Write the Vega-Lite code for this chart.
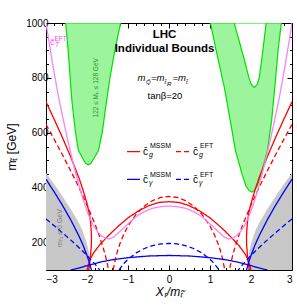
{
 "$schema": "https://vega.github.io/schema/vega-lite/v6.json",
 "width": 246, "height": 247,
 "autosize": {"type": "none"},
 "padding": {"left": 46, "top": 23, "right": 5, "bottom": 36},
 "background": "#ffffff",
 "config": {
  "view": {"stroke": "#000000", "strokeWidth": 1},
  "font": "Liberation Sans",
  "axis": {"grid": false, "domain": false, "tickColor": "#000000", "tickWidth": 1, "labelFont": "Liberation Sans", "labelFontSize": 10, "labelColor": "#000000", "titleFont": "Liberation Sans", "titleColor": "#000000", "titleFontWeight": "normal", "titleFontSize": 12}
 },
 "datasets": {
  "gray": [
   {"side": "L", "X": [-3, -2.8, -2.6, -2.4, -2.2, -2.1, -2.0, -1.95, -1.93, -1.92], "hi": [453, 412, 369, 322, 272, 240, 195, 160, 130, 100]},
   {"side": "R", "X": [1.92, 1.93, 1.95, 2.0, 2.1, 2.2, 2.4, 2.6, 2.8, 3], "hi": [100, 130, 160, 195, 240, 272, 322, 369, 412, 453]}
  ],
  "green": [
   {"reg": "L", "m": [483, 488, 500, 520, 536, 600, 719, 800, 901, 1000], "xl": [-1.97, -2.03, -2.08, -2.15, -2.21, -2.28, -2.37, -2.41, -2.46, -2.52], "xr": [-1.97, -1.91, -1.86, -1.78, -1.72, -1.63, -1.52, -1.44, -1.32, -1.18]},
   {"reg": "R", "m": [384, 390, 405, 450, 536, 640, 765, 900, 1000], "xl": [2.02, 1.95, 1.88, 1.78, 1.62, 1.5, 1.35, 1.15, 1.01], "xr": [2.02, 2.09, 2.15, 2.25, 2.4, 2.5, 2.58, 2.66, 2.74]}
  ],
  "hole": [
   {"reg": "H", "m": [765, 775, 800, 876, 1000], "xl": [2.08, 2.01, 1.95, 1.82, 1.59], "xr": [2.08, 2.15, 2.2, 2.27, 2.37]}
  ],
  "curves": [
   {"s": "gM", "g": "gM1", "X": [-3, -2.8, -2.6, -2.4, -2.2, -2.1, -2.0, -1.95, -1.92, -1.9, -1.89, -1.895, -1.91, -1.93, -1.96], "m": [713, 649, 583, 513, 437, 393, 342, 310, 284, 250, 220, 190, 160, 130, 100]},
   {"s": "gM", "g": "gM2", "X": [-2.0, -1.97, -1.92, -1.85, -1.7, -1.5, -1.25, -1.0, -0.75, -0.5, -0.25, 0, 0.25, 0.5, 0.75, 1.0, 1.25, 1.5, 1.7, 1.85, 1.92, 1.97, 2.0], "m": [100, 115, 140, 160, 190, 222, 258, 290, 315, 334, 346, 349, 346, 334, 315, 290, 258, 222, 190, 160, 140, 115, 100]},
   {"s": "gM", "g": "gM3", "X": [3, 2.8, 2.6, 2.4, 2.2, 2.1, 2.0, 1.95, 1.92, 1.9, 1.89, 1.895, 1.91, 1.93, 1.96], "m": [713, 649, 583, 513, 437, 393, 342, 310, 284, 250, 220, 190, 160, 130, 100]},
   {"s": "gE", "g": "gE1", "X": [-3, -2.8, -2.6, -2.4, -2.2, -2.0, -1.8, -1.7, -1.6, -1.55, -1.5, -1.475], "m": [630.5, 575.9, 519.9, 462.1, 401.6, 337, 265.4, 224.8, 178.3, 151.2, 119.2, 100]},
   {"s": "gE", "g": "gE2", "X": [-1.361, -1.3, -1.25, -1.2, -1.1, -1.0, -0.8, -0.6, -0.4, -0.2, 0, 0.2, 0.4, 0.6, 0.8, 1.0, 1.1, 1.2, 1.25, 1.3, 1.361], "m": [100, 144.9, 172.1, 194.7, 231.3, 260.2, 303.5, 333.2, 353, 364.3, 368, 364.3, 353, 333.2, 303.5, 260.2, 231.3, 194.7, 172.1, 144.9, 100]},
   {"s": "gE", "g": "gE3", "X": [3, 2.8, 2.6, 2.4, 2.2, 2.0, 1.8, 1.7, 1.6, 1.55, 1.5, 1.475], "m": [630.5, 575.9, 519.9, 462.1, 401.6, 337, 265.4, 224.8, 178.3, 151.2, 119.2, 100]},
   {"s": "yE", "g": "yE1", "X": [-3, -2.8, -2.6, -2.4, -2.2, -2.0, -1.8, -1.69], "m": [286.2, 261.4, 236, 209.8, 182.3, 153, 120.5, 100]},
   {"s": "yE", "g": "yE2", "X": [-1.218, -1.2, -1.1, -1.0, -0.8, -0.6, -0.4, -0.2, 0, 0.2, 0.4, 0.6, 0.8, 1.0, 1.1, 1.2, 1.218], "m": [100, 104.2, 123.8, 139.3, 162.4, 178.4, 189, 195, 197, 195, 189, 178.4, 162.4, 139.3, 123.8, 104.2, 100]},
   {"s": "yE", "g": "yE3", "X": [3, 2.8, 2.6, 2.4, 2.2, 2.0, 1.8, 1.69], "m": [286.2, 261.4, 236, 209.8, 182.3, 153, 120.5, 100]},
   {"s": "yM", "g": "yM1", "X": [-3, -2.8, -2.6, -2.4, -2.2, -2.1, -2.0, -1.95, -1.9, -1.888], "m": [431, 384.5, 336, 283.7, 225, 191.7, 153, 130.6, 104, 100]},
   {"s": "yM", "g": "yM2", "X": [-2.4, -2.2, -2.0, -1.7, -1.4, -1.0, -0.5, 0, 0.5, 1.0, 1.4, 1.7, 2.0, 2.2, 2.4], "m": [100, 107, 116, 128, 137, 145, 151, 153, 151, 145, 137, 128, 116, 107, 100]},
   {"s": "yM", "g": "yM3", "X": [3, 2.8, 2.6, 2.4, 2.2, 2.1, 2.0, 1.95, 1.9, 1.888], "m": [431, 384.5, 336, 283.7, 225, 191.7, 153, 130.6, 104, 100]},
   {"s": "T", "g": "T", "X": [-3, -2.85, -2.7, -2.55, -2.45, -2.35, -2.25, -2.15, -2.05, -1.95, -1.85, -1.75, -1.65, -1.55, -1.45, -1.35, -1.2, -1.0, -0.8, -0.6, -0.4, -0.2, 0, 0.2, 0.4, 0.6, 0.8, 1.0, 1.2, 1.35, 1.45, 1.55, 1.65, 1.75, 1.85, 1.95, 2.05, 2.15, 2.25, 2.35, 2.45, 2.55, 2.7, 2.85, 3], "m": [1000, 860, 735, 628, 560, 497, 438, 384, 336, 296, 264, 241, 225, 216, 213, 220, 240, 268, 295, 313, 325, 331, 333, 331, 325, 313, 295, 268, 240, 220, 213, 216, 225, 241, 264, 296, 336, 384, 438, 497, 560, 628, 735, 860, 1000]}
  ],
  "legend": [
   {"s": "gM", "X1": -1.024, "X2": -0.707, "m": 531},
   {"s": "gE", "X1": 0.171, "X2": 0.488, "m": 531},
   {"s": "yM", "X1": -1.024, "X2": -0.707, "m": 430},
   {"s": "yE", "X1": 0.171, "X2": 0.488, "m": 430}
  ],
  "labels": [
   {"k": "ttl", "X": -0.11, "m": 955, "t": "LHC"},
   {"k": "ttl", "X": -0.11, "m": 904, "t": "Individual Bounds"},
   {"k": "eq", "X": -0.768, "m": 788, "t": "m"},
   {"k": "eqs", "X": -0.561, "m": 777, "t": "Q\u0303"},
   {"k": "eq", "X": -0.439, "m": 788, "t": "=m"},
   {"k": "eqs", "X": -0.11, "m": 777, "t": "t\u0303"},
   {"k": "eqs", "X": -0.049, "m": 772, "t": "R"},
   {"k": "eq", "X": 0.085, "m": 788, "t": "=m"},
   {"k": "eqs", "X": 0.415, "m": 777, "t": "t\u0303"},
   {"k": "tan", "X": -0.098, "m": 733, "t": "tan\u03b2=20"},
   {"k": "c", "X": -0.634, "m": 519, "t": "c\u0304"},
   {"k": "sub", "X": -0.49, "m": 512, "t": "g"},
   {"k": "sup", "X": -0.463, "m": 543, "t": "MSSM"},
   {"k": "c", "X": 0.585, "m": 519, "t": "c\u0304"},
   {"k": "sub", "X": 0.732, "m": 512, "t": "g"},
   {"k": "sup", "X": 0.756, "m": 543, "t": "EFT"},
   {"k": "c", "X": -0.634, "m": 417, "t": "c\u0304"},
   {"k": "sub", "X": -0.49, "m": 410, "t": "\u03b3"},
   {"k": "sup", "X": -0.463, "m": 440, "t": "MSSM"},
   {"k": "c", "X": 0.585, "m": 417, "t": "c\u0304"},
   {"k": "sub", "X": 0.732, "m": 410, "t": "\u03b3"},
   {"k": "sup", "X": 0.756, "m": 440, "t": "EFT"},
   {"k": "pc", "X": -2.902, "m": 919, "t": "c\u0304"},
   {"k": "ps", "X": -2.78, "m": 914, "t": "T"},
   {"k": "pp", "X": -2.793, "m": 935, "t": "EFT"},
   {"k": "gr", "X": -1.78, "m": 764, "t": "122 \u2264 M\u2095 \u2264 128 GeV"},
   {"k": "gy", "X": -2.66, "m": 253, "t": "m\u209c\u0303\u2081 \u2264 0 GeV"}
  ]
 },
 "resolve": {"axis": {"x": "independent", "y": "independent"}},
 "layer": [
  {
   "data": {"name": "gray"},
   "transform": [{"flatten": ["X", "hi"]}],
   "mark": {"type": "area", "fill": "#c8c8c8", "clip": true},
   "encoding": {
    "x": {"field": "X", "type": "quantitative", "scale": {"domain": [-3, 3], "nice": false, "zero": false},
     "axis": {"orient": "bottom", "values": [-3, -2, -1, 0, 1, 2, 3], "tickSize": -5, "labelPadding": 9, "title": "X\u209c/m\u209c\u0303", "titleFontStyle": "italic", "titleFontSize": 12, "titlePadding": 2}},
    "y": {"field": "hi", "type": "quantitative", "scale": {"domain": [100, 1000], "nice": false, "zero": false},
     "axis": {"orient": "left", "values": [200, 400, 600, 800, 1000], "format": "d", "tickSize": -5, "labelPadding": 3, "title": "m\u209c\u0303 [GeV]", "titleFontSize": 12, "titlePadding": 7}},
    "y2": {"datum": 100},
    "detail": {"field": "side"}
   }
  },
  {
   "data": {"name": "green"},
   "transform": [{"flatten": ["m", "xl", "xr"]}],
   "mark": {"type": "area", "orient": "horizontal", "fill": "#9cf59c", "stroke": "#00e000", "strokeWidth": 1.2, "clip": true},
   "encoding": {
    "y": {"field": "m", "type": "quantitative", "scale": {"domain": [100, 1000], "nice": false, "zero": false},
     "axis": {"orient": "right", "values": [200, 400, 600, 800, 1000], "tickSize": -5, "labels": false, "title": null}},
    "x": {"field": "xl", "type": "quantitative", "scale": {"domain": [-3, 3], "nice": false, "zero": false},
     "axis": {"orient": "top", "values": [-3, -2, -1, 0, 1, 2, 3], "tickSize": -5, "labels": false, "title": null}},
    "x2": {"field": "xr"},
    "detail": {"field": "reg"}
   }
  },
  {
   "data": {"name": "hole"},
   "transform": [{"flatten": ["m", "xl", "xr"]}],
   "mark": {"type": "area", "orient": "horizontal", "fill": "#ffffff", "stroke": "#00e000", "strokeWidth": 1.2, "clip": true},
   "encoding": {
    "y": {"field": "m", "type": "quantitative", "scale": {"domain": [100, 1000], "nice": false, "zero": false},
     "axis": {"orient": "left", "values": [150, 250, 300, 350, 450, 500, 550, 650, 700, 750, 850, 900, 950], "tickSize": -2.5, "labels": false, "title": null}},
    "x": {"field": "xl", "type": "quantitative", "scale": {"domain": [-3, 3], "nice": false, "zero": false},
     "axis": {"orient": "bottom", "values": [-2.8, -2.6, -2.4, -2.2, -1.8, -1.6, -1.4, -1.2, -0.8, -0.6, -0.4, -0.2, 0.2, 0.4, 0.6, 0.8, 1.2, 1.4, 1.6, 1.8, 2.2, 2.4, 2.6, 2.8], "tickSize": -2.5, "labels": false, "title": null}},
    "x2": {"field": "xr"}
   }
  },
  {
   "data": {"name": "curves"},
   "transform": [{"flatten": ["X", "m"]}],
   "mark": {"type": "line", "strokeWidth": 1.3, "clip": true},
   "encoding": {
    "x": {"field": "X", "type": "quantitative", "scale": {"domain": [-3, 3], "nice": false, "zero": false},
     "axis": {"orient": "top", "values": [-2.8, -2.6, -2.4, -2.2, -1.8, -1.6, -1.4, -1.2, -0.8, -0.6, -0.4, -0.2, 0.2, 0.4, 0.6, 0.8, 1.2, 1.4, 1.6, 1.8, 2.2, 2.4, 2.6, 2.8], "tickSize": -2.5, "labels": false, "title": null}},
    "y": {"field": "m", "type": "quantitative", "scale": {"domain": [100, 1000], "nice": false, "zero": false},
     "axis": {"orient": "right", "values": [150, 250, 300, 350, 450, 500, 550, 650, 700, 750, 850, 900, 950], "tickSize": -2.5, "labels": false, "title": null}},
    "color": {"field": "s", "type": "nominal", "scale": {"domain": ["gM", "gE", "yM", "yE", "T"], "range": ["#ff0000", "#ff0000", "#0000ff", "#0000ff", "#f584f5"]}, "legend": null},
    "strokeDash": {"field": "s", "type": "nominal", "scale": {"domain": ["gM", "gE", "yM", "yE", "T"], "range": [[1, 0], [5, 3], [1, 0], [5, 3], [1, 0]]}, "legend": null},
    "detail": {"field": "g"},
    "order": {"value": null}
   }
  },
  {
   "data": {"name": "legend"},
   "mark": {"type": "rule", "strokeWidth": 1.3},
   "encoding": {
    "x": {"field": "X1", "type": "quantitative", "scale": {"domain": [-3, 3], "nice": false, "zero": false}, "axis": null},
    "x2": {"field": "X2"},
    "y": {"field": "m", "type": "quantitative", "scale": {"domain": [100, 1000], "nice": false, "zero": false}, "axis": null},
    "color": {"field": "s", "type": "nominal", "scale": {"domain": ["gM", "gE", "yM", "yE", "T"], "range": ["#ff0000", "#ff0000", "#0000ff", "#0000ff", "#f584f5"]}, "legend": null},
    "strokeDash": {"field": "s", "type": "nominal", "scale": {"domain": ["gM", "gE", "yM", "yE", "T"], "range": [[1, 0], [5, 3], [1, 0], [5, 3], [1, 0]]}, "legend": null}
   }
  },
  {
   "data": {"name": "labels"},
   "encoding": {
    "x": {"field": "X", "type": "quantitative", "scale": {"domain": [-3, 3], "nice": false, "zero": false}, "axis": null},
    "y": {"field": "m", "type": "quantitative", "scale": {"domain": [100, 1000], "nice": false, "zero": false}, "axis": null},
    "text": {"field": "t"}
   },
   "layer": [
    {"transform": [{"filter": "datum.k == 'ttl'"}], "mark": {"type": "text", "font": "Liberation Sans", "fontSize": 11.5, "fontWeight": "bold", "align": "center", "baseline": "middle", "color": "#000000"}},
    {"transform": [{"filter": "datum.k == 'eq'"}], "mark": {"type": "text", "font": "Liberation Sans", "fontSize": 9.5, "fontStyle": "italic", "align": "left", "baseline": "alphabetic", "color": "#000000"}},
    {"transform": [{"filter": "datum.k == 'eqs'"}], "mark": {"type": "text", "font": "Liberation Sans", "fontSize": 6, "fontStyle": "italic", "align": "left", "baseline": "alphabetic", "color": "#000000"}},
    {"transform": [{"filter": "datum.k == 'tan'"}], "mark": {"type": "text", "font": "Liberation Sans", "fontSize": 9.5, "align": "center", "baseline": "middle", "color": "#000000"}},
    {"transform": [{"filter": "datum.k == 'c'"}], "mark": {"type": "text", "font": "Liberation Sans", "fontSize": 10, "align": "left", "baseline": "alphabetic", "color": "#000000"}},
    {"transform": [{"filter": "datum.k == 'sub'"}], "mark": {"type": "text", "font": "Liberation Sans", "fontSize": 7, "fontStyle": "italic", "align": "left", "baseline": "alphabetic", "color": "#000000"}},
    {"transform": [{"filter": "datum.k == 'sup'"}], "mark": {"type": "text", "font": "Liberation Sans", "fontSize": 7, "align": "left", "baseline": "alphabetic", "color": "#000000"}},
    {"transform": [{"filter": "datum.k == 'pc'"}], "mark": {"type": "text", "font": "Liberation Sans", "fontSize": 9, "align": "left", "baseline": "alphabetic", "color": "#ff40ff"}},
    {"transform": [{"filter": "datum.k == 'ps'"}], "mark": {"type": "text", "font": "Liberation Sans", "fontSize": 6.5, "fontStyle": "italic", "align": "left", "baseline": "alphabetic", "color": "#ff40ff"}},
    {"transform": [{"filter": "datum.k == 'pp'"}], "mark": {"type": "text", "font": "Liberation Sans", "fontSize": 6.5, "align": "left", "baseline": "alphabetic", "color": "#ff40ff"}},
    {"transform": [{"filter": "datum.k == 'gr'"}], "mark": {"type": "text", "font": "Liberation Sans", "fontSize": 6.5, "angle": 270, "align": "center", "baseline": "middle", "color": "#2f8f2f"}},
    {"transform": [{"filter": "datum.k == 'gy'"}], "mark": {"type": "text", "font": "Liberation Sans", "fontSize": 7, "angle": 270, "align": "center", "baseline": "middle", "color": "#7a7a7a"}}
   ]
  }
 ]
}
